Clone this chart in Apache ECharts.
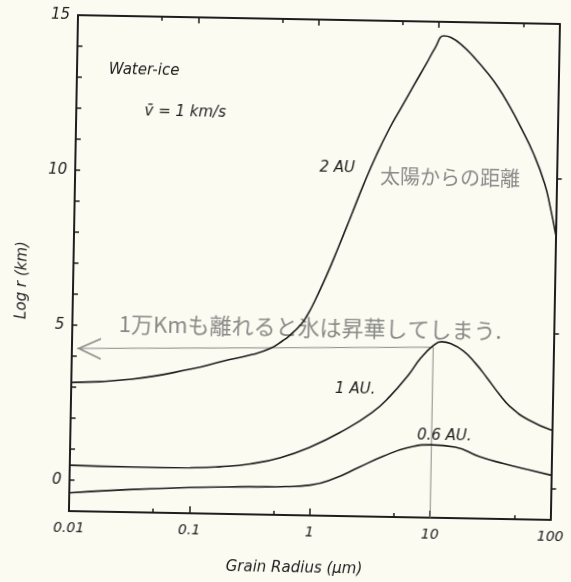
<!DOCTYPE html>
<html>
<head>
<meta charset="utf-8">
<script src="https://cdn.jsdelivr.net/npm/echarts@6/dist/echarts.min.js"></script>
<style>
html,body{margin:0;padding:0;background:#fbfbf2;overflow:hidden;}
#chart{width:571px;height:582px;transform:rotate(1.05deg);transform-origin:50% 50%;}
</style>
</head>
<body>
<div id="chart"></div>
<script>
// Grain radius (μm) and Log r (km)
const radius2AU = [0.01, 0.0316, 0.1, 0.178, 0.316, 0.447, 0.562, 0.631, 0.794, 0.891, 1, 1.26, 1.58, 2.0, 2.51, 3.16, 3.98, 5.01, 6.31, 7.94, 9.33, 11.0, 12.6, 15.8, 20.0, 25.1, 31.6, 39.8, 50.1, 63.1, 79.4, 89.1, 100];
const logr2AU   = [3.15, 3.29, 3.66, 3.92, 4.16, 4.37, 4.62, 4.77, 5.16, 5.46, 5.84, 6.72, 7.68, 8.72, 9.73, 10.67, 11.5, 12.22, 12.94, 13.64, 14.15, 14.55, 14.5, 14.24, 13.85, 13.42, 12.92, 12.3, 11.6, 10.83, 9.85, 9.1, 8.2];

const radius1AU = [0.01, 0.0316, 0.1, 0.178, 0.316, 0.562, 1, 1.78, 3.16, 4.47, 6.31, 7.94, 10, 11.7, 14.1, 17.8, 22.4, 28.2, 35.5, 44.7, 63.1, 100];
const logr1AU   = [0.48, 0.46, 0.47, 0.52, 0.63, 0.85, 1.22, 1.72, 2.35, 2.9, 3.6, 4.15, 4.55, 4.68, 4.62, 4.40, 4.02, 3.55, 3.05, 2.62, 2.22, 1.89];

const radius06AU = [0.01, 0.0316, 0.1, 0.316, 0.631, 1, 1.58, 2.51, 3.98, 6.31, 10, 15.8, 25.1, 39.8, 63.1, 100];
const logr06AU   = [-0.41, -0.27, -0.17, -0.11, -0.08, -0.02, 0.21, 0.58, 0.95, 1.24, 1.35, 1.29, 1.0, 0.79, 0.61, 0.44];

// hand-drawn guide (arrow to the axis and drop line at 10 μm)
const guideRadius = [0.011, 10, 10];
const guideLogr   = [4.25, 4.5, -1];

const xTickLabels = {0.01: '0.01', 0.1: '0.1', 1: '1', 10: '10', 100: '100'};
const xMinorTicks = [0.05, 0.5, 5, 50];
const yLabelValues = [0, 5, 10, 15];
const yRightTicks = [0, 5, 10];

const zip = (a, b) => a.map((v, i) => [v, b[i]]);

const ink = '#1e1e1e';
const pencil = '#8a8a88';
const latin = '"DejaVu Sans", sans-serif';
const cjk = '"Noto Sans CJK JP", sans-serif';

const chart = echarts.init(document.getElementById('chart'), null, {renderer: 'canvas'});

const axisLine = {show: true, onZero: false, lineStyle: {color: ink, width: 2}};
const noLine = {show: false, onZero: false};

const guideData = zip(guideRadius, guideLogr).map((p, i) => i === 0 ? {
  value: p,
  symbol: 'path://M10,0 L0,5 L10,10 L10,9.2 L1.6,5 L10,0.8 Z',
  symbolSize: [24, 22],
  symbolOffset: [12, 0],
  itemStyle: {color: pencil}
} : {value: p, symbol: 'none'});

const curve = (name, xs, ys) => ({
  name, type: 'line', data: zip(xs, ys), smooth: 0.5, symbol: 'none',
  lineStyle: {color: ink, width: 1.6}, z: 3
});

chart.setOption({
  animation: false,
  grid: {left: 73, top: 19, width: 482, height: 496},
  xAxis: [
    {
      type: 'log', logBase: 10, min: 0.01, max: 100, position: 'bottom',
      axisLine: axisLine,
      axisTick: {show: true, inside: true, length: 7, lineStyle: {color: ink, width: 1.5}},
      axisLabel: {
        margin: 10, color: ink, fontSize: 14, fontStyle: 'italic', fontFamily: latin,
        formatter: v => xTickLabels[+(+v).toPrecision(3)] || ''
      },
      splitLine: {show: false}
    },
    {
      type: 'log', logBase: 10, min: 0.01, max: 100, position: 'top',
      axisLine: axisLine,
      axisTick: {show: true, inside: true, length: 6, lineStyle: {color: ink, width: 1.5}},
      axisLabel: {show: false}, splitLine: {show: false}
    },
    {
      type: 'log', logBase: 10, min: 0.01, max: 100, position: 'bottom',
      axisLine: noLine,
      axisTick: {show: true, inside: true, length: 4, customValues: xMinorTicks, lineStyle: {color: ink, width: 1.5}},
      axisLabel: {show: false}, splitLine: {show: false}
    },
    {
      type: 'log', logBase: 10, min: 0.01, max: 100, position: 'top',
      axisLine: noLine,
      axisTick: {show: true, inside: true, length: 4, customValues: xMinorTicks, lineStyle: {color: ink, width: 1.5}},
      axisLabel: {show: false}, splitLine: {show: false}
    }
  ],
  yAxis: [
    {
      type: 'value', min: -1, max: 15, interval: 1, position: 'left',
      axisLine: axisLine,
      axisTick: {show: true, inside: true, length: 5, lineStyle: {color: ink, width: 1.5}},
      axisLabel: {
        margin: 8, color: ink, fontSize: 15, fontStyle: 'italic', fontFamily: latin,
        formatter: v => yLabelValues.indexOf(v) >= 0 ? String(v) : ''
      },
      splitLine: {show: false}
    },
    {
      type: 'value', min: -1, max: 15, position: 'right',
      axisLine: axisLine,
      axisTick: {show: true, inside: false, length: 5, customValues: yRightTicks, lineStyle: {color: ink, width: 1.5}},
      axisLabel: {show: false}, splitLine: {show: false}
    }
  ],
  series: [
    curve('2 AU', radius2AU, logr2AU),
    curve('1 AU', radius1AU, logr1AU),
    curve('0.6 AU', radius06AU, logr06AU),
    {name: 'guide', type: 'line', data: guideData, smooth: false,
     lineStyle: {color: pencil, width: 1}, z: 1}
  ],
  graphic: [
    {type: 'text', x: 140, y: 73, style: {text: 'Water-ice', fill: ink, font: 'italic 15px ' + latin, align: 'center', verticalAlign: 'middle'}},
    {type: 'text', x: 182, y: 114, style: {text: 'v\u0304 = 1 km/s', fill: ink, font: 'italic 15px ' + latin, align: 'center', verticalAlign: 'middle'}},
    {type: 'text', x: 335, y: 167, style: {text: '2 AU', fill: ink, font: 'italic 15px ' + latin, align: 'center', verticalAlign: 'middle'}},
    {type: 'text', x: 357, y: 388, style: {text: '1 AU.', fill: ink, font: 'italic 15px ' + latin, align: 'center', verticalAlign: 'middle'}},
    {type: 'text', x: 447, y: 433, style: {text: '0.6 AU.', fill: ink, font: 'italic 15px ' + latin, align: 'center', verticalAlign: 'middle'}},
    {type: 'text', x: 448, y: 174, style: {text: '太陽からの距離', fill: pencil, font: '20px ' + cjk, align: 'center', verticalAlign: 'middle'}},
    {type: 'text', x: 311, y: 327, style: {text: '1万Kmも離れると氷は昇華してしまう.', fill: pencil, font: '22px ' + cjk, align: 'center', verticalAlign: 'middle'}},
    {type: 'text', x: 299, y: 568, style: {text: 'Grain Radius (μm)', fill: ink, font: 'italic 15px ' + latin, align: 'center', verticalAlign: 'middle'}},
    {type: 'text', x: 22, y: 285, rotation: Math.PI / 2, style: {text: 'Log r (km)', fill: ink, font: 'italic 15px ' + latin, align: 'center', verticalAlign: 'middle'}}
  ]
});
</script>
</body>
</html>
